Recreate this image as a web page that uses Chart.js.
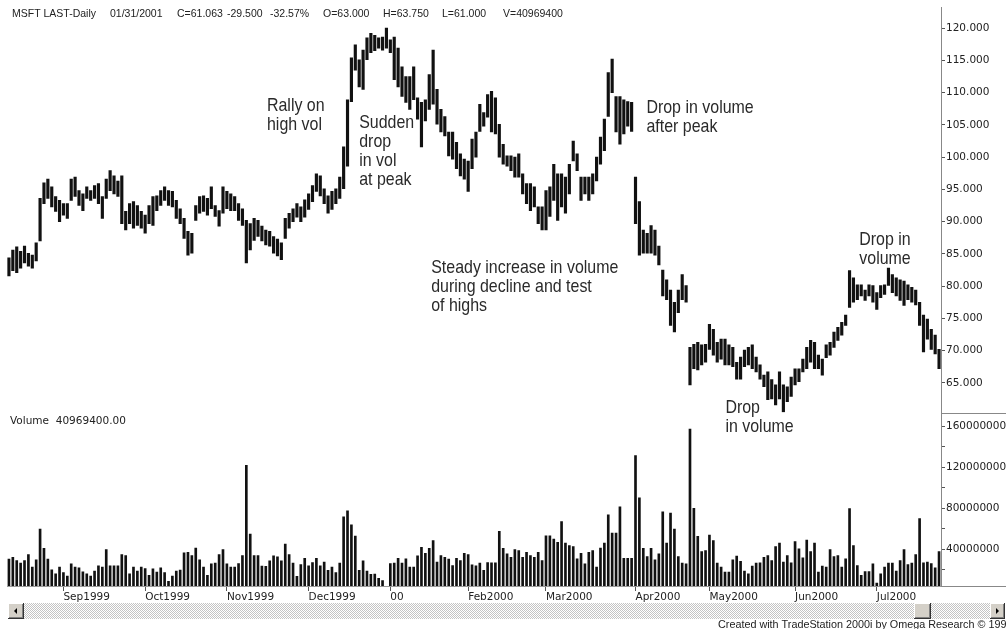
<!DOCTYPE html>
<html lang="en">
<head>
  <meta charset="utf-8">
  <title>MSFT Daily - price and volume</title>
  <script src="https://cdn.jsdelivr.net/npm/chart.js@4.4.1/dist/chart.umd.min.js"></script>
  <style>
    html, body { margin: 0; padding: 0; background: #fff; }
  </style>
</head>
<body>
  <canvas id="myChart" width="1006" height="629"></canvas>

  <script>
    // daily bars, Aug 1999 - Jul 2000
    var highs = [
      84.4, 85.6, 86.1, 85.4, 86.2, 85.1, 84.8, 86.7, 93.6, 96.0,
      96.6, 95.4, 93.9, 93.3, 92.8, 92.8, 96.6, 96.9, 94.8, 94.3,
      95.4, 94.8, 95.6, 95.9, 93.9, 96.6, 97.9, 97.1, 96.3, 97.1,
      91.6, 92.8, 93.1, 92.5, 91.6, 91.0, 92.5, 93.9, 94.0, 94.8,
      95.4, 94.8, 94.7, 93.3, 92.0, 90.5, 88.5, 88.2, 92.5, 93.9,
      94.0, 93.6, 95.4, 92.5, 91.7, 95.4, 94.7, 94.3, 93.9, 92.8,
      92.0, 90.2, 89.7, 90.5, 90.2, 89.3, 88.7, 88.5, 87.7, 87.3,
      86.7, 90.5, 91.3, 92.0, 92.8, 92.3, 93.4, 94.3, 95.6, 97.4,
      97.1, 95.1, 94.0, 94.7, 95.1, 96.9, 101.6, 108.9, 115.4, 117.4,
      115.1, 116.6, 118.5, 119.2, 118.9, 118.5, 118.6, 120.0, 118.2, 118.6,
      116.9, 114.0, 112.5, 112.5, 114.0, 109.2, 108.5, 108.9, 112.8, 116.6,
      110.5, 107.4, 106.3, 103.9, 103.9, 102.3, 100.5, 99.7, 99.4, 102.8,
      103.9, 108.2, 106.9, 109.7, 110.2, 109.2, 105.1, 102.0, 100.2, 100.2,
      100.0, 100.5, 97.4, 95.9, 95.9, 95.4, 92.3, 92.3, 94.8, 95.4,
      98.9, 97.4, 97.4, 96.9, 98.9, 102.5, 100.5, 96.9, 96.9, 96.9,
      97.4, 100.0, 103.1, 105.9, 113.1, 115.2, 109.4, 109.4, 108.9, 108.6,
      108.5, 96.9, 93.1, 88.7, 88.2, 89.4, 88.7, 86.2, 82.5, 81.0,
      79.4, 77.5, 79.4, 81.8, 80.1, 70.5, 71.0, 71.3, 70.9, 71.0,
      74.1, 73.3, 71.3, 71.8, 71.8, 70.9, 70.5, 68.2, 69.0, 70.1,
      70.5, 70.9, 69.0, 67.8, 66.2, 66.7, 65.5, 64.7, 66.7, 64.7,
      64.4, 65.9, 67.2, 67.2, 68.7, 70.5, 71.6, 71.3, 69.3, 68.7,
      70.9, 71.3, 72.9, 73.6, 74.4, 75.5, 82.4, 81.3, 80.2, 80.2,
      79.4, 80.2, 80.1, 79.0, 80.1, 80.2, 82.8, 81.8, 81.3, 81.0,
      80.8, 80.2, 79.8, 79.4, 77.5, 75.5, 74.9, 73.3, 72.4, 70.2
    ];
    var lows = [
      81.6, 82.4, 82.1, 82.8, 83.6, 83.1, 82.8, 83.9, 87.0, 92.8,
      93.6, 92.3, 91.6, 90.0, 91.0, 90.5, 93.3, 93.9, 92.5, 91.7,
      93.6, 93.3, 93.6, 92.8, 90.5, 93.6, 94.8, 94.3, 93.9, 89.7,
      88.7, 89.7, 89.0, 89.4, 89.0, 88.2, 89.7, 89.4, 91.7, 92.5,
      93.3, 92.5, 92.3, 90.5, 89.7, 87.4, 84.8, 85.1, 90.2, 91.3,
      91.6, 91.0, 92.0, 90.8, 89.3, 91.3, 92.0, 91.7, 91.7, 90.2,
      89.4, 83.6, 85.6, 87.1, 87.7, 87.0, 86.4, 86.2, 85.1, 84.7,
      84.1, 87.4, 89.0, 90.0, 90.7, 90.0, 90.7, 91.9, 93.1, 94.7,
      94.0, 92.8, 91.3, 91.9, 92.8, 93.6, 95.1, 98.6, 108.6, 113.5,
      110.9, 110.5, 115.1, 116.2, 116.5, 116.9, 116.6, 116.9, 116.2, 112.0,
      110.9, 109.4, 108.5, 107.4, 108.9, 105.9, 101.6, 105.6, 107.4, 108.2,
      105.1, 103.9, 103.3, 100.2, 99.7, 98.2, 97.1, 96.6, 94.7, 98.2,
      100.0, 104.0, 104.8, 106.2, 103.9, 103.6, 100.0, 98.9, 98.6, 97.9,
      96.9, 96.9, 94.3, 92.8, 91.7, 92.3, 89.7, 88.7, 88.7, 90.8,
      93.3, 90.2, 92.3, 91.3, 94.3, 99.4, 97.9, 93.3, 94.3, 93.3,
      94.3, 96.3, 98.9, 101.0, 106.3, 110.0, 103.9, 102.0, 103.6, 104.8,
      104.0, 89.7, 84.8, 85.1, 85.1, 85.1, 84.8, 83.3, 78.5, 77.9,
      73.9, 72.9, 75.9, 77.9, 77.5, 64.7, 67.2, 67.0, 67.8, 68.2,
      70.2, 69.3, 68.2, 68.7, 67.8, 67.8, 67.5, 65.6, 65.6, 67.5,
      67.8, 67.2, 66.7, 65.6, 64.4, 62.4, 62.5, 61.6, 62.5, 60.5,
      62.1, 62.9, 64.7, 65.2, 66.7, 67.2, 68.2, 67.2, 67.2, 66.2,
      68.9, 69.3, 70.5, 71.6, 72.4, 73.9, 76.7, 77.5, 77.9, 78.5,
      77.8, 78.5, 77.5, 76.4, 78.2, 78.7, 80.1, 79.0, 78.5, 77.8,
      77.0, 77.9, 77.5, 77.1, 73.9, 69.8, 71.8, 70.2, 69.5, 67.2
    ];
    // volume, millions of shares (null = no bar printed)
    var volumes = [
      30.4, 32.3, 29.1, 26.5, 29.1, 34.9, 22.6, 29.7, 59.8, 41.0,
      30.4, 20.0, 16.2, 22.6, 17.4, 13.9, 25.8, 22.6, 22.0, 18.1,
      16.2, 13.9, 18.7, 23.9, 22.6, 39.7, 23.9, 23.9, 23.9, 34.9,
      33.9, 16.2, 22.6, 18.7, 22.6, 21.3, 14.5, 21.0, 17.8, 22.0,
      17.4, 8.7, 13.9, 18.7, 19.7, 36.5, 37.1, 33.9, 41.3, 29.7,
      22.6, 14.5, 25.8, 26.5, 34.9, 39.7, 25.8, 22.6, 22.6, 26.2,
      33.9, 122.1, 54.9, 33.9, 33.9, 23.6, 23.3, 28.7, 33.6, 32.6,
      28.7, 45.2, 34.9, 26.5, 13.6, 25.2, 31.3, 23.9, 27.1, 31.3,
      23.9, 27.5, 19.4, 22.6, 17.4, 26.5, 71.7, 77.5, 64.0, 53.0,
      19.4, 28.7, 18.7, 15.5, 15.8, 11.6, 9.5, null, 26.2, 26.5,
      31.3, 26.5, 30.7, 22.6, 22.6, 33.6, 42.0, 36.2, 41.0, 48.5,
      27.5, 33.9, 32.3, 30.4, 24.2, 31.3, 29.1, 36.2, 34.9, 24.9,
      23.9, 26.5, 19.4, 27.1, 26.8, 26.8, 57.5, 41.0, 35.5, 32.3,
      39.7, 38.8, 32.3, 37.1, 33.9, 32.3, 37.1, 29.1, 53.3, 53.3,
      50.1, 46.8, 67.2, 46.2, 43.6, 42.6, 30.7, 36.2, 25.8, 37.1,
      38.8, 22.6, 41.3, 46.2, 73.6, 55.9, 55.9, 81.4, 31.3, 31.3,
      31.3, 131.5, 90.4, 41.0, 32.9, 41.0, 29.7, 35.5, 76.6, 46.2,
      75.3, 59.8, 32.9, 26.5, 25.8, 157.3, 80.1, 52.6, 37.8, 38.8,
      53.9, 48.5, 26.5, 22.6, 17.8, 17.8, 29.7, 33.3, 28.4, 18.7,
      16.2, 23.6, 26.5, 26.8, 32.3, 33.9, 29.1, 42.6, 46.2, 27.5,
      33.9, 26.8, 47.5, 40.4, 31.7, 49.1, 37.8, 46.2, 17.8, 23.6,
      22.6, 39.7, 32.9, 33.9, 22.6, 30.7, 79.8, 43.6, 24.2, 14.5,
      18.4, 18.4, 25.8, 7.1, 16.2, 22.6, 26.5, 26.5, 18.7, 29.1,
      39.7, 25.2, 26.5, 34.9, 70.1, 26.8, 27.5, 26.2, 22.0, 37.8
    ];

    // x axis: month labels and the bar they start on
    var monthNames = ['Sep1999', 'Oct1999', 'Nov1999', 'Dec1999', '00', 'Feb2000',
                      'Mar2000', 'Apr2000', 'May2000', 'Jun2000', 'Jul2000'];
    var monthStart = [14, 35, 56, 77, 98, 118, 138, 161, 180, 202, 223];

    var priceTicks = [65, 70, 75, 80, 85, 90, 95, 100, 105, 110, 115, 120];
    var volumeTicks = [20, 40, 60, 80, 100, 120, 140, 160];   // millions

    var headerText = ['MSFT LAST-Daily', '01/31/2001', 'C=61.063', '-29.500', '-32.57%',
                      'O=63.000', 'H=63.750', 'L=61.000', 'V=40969400'];
    var headerX = [12, 110, 177, 227, 270, 323, 383, 442, 503];

    // callouts: text lines, anchored at [bar index, price] of the first baseline
    var notes = [
      { lines: ['Rally on', 'high vol'], at: [66.3, 107.1] },
      { lines: ['Sudden', 'drop', 'in vol', 'at peak'], at: [90.0, 104.5] },
      { lines: ['Drop in volume', 'after peak'], at: [163.8, 106.9] },
      { lines: ['Steady increase in volume', 'during decline and test', 'of highs'], at: [108.5, 82.05] },
      { lines: ['Drop in', 'volume'], at: [218.5, 86.35] },
      { lines: ['Drop', 'in volume'], at: [184.1, 60.4] }
    ];

    var labels = [];
    for (var i = 0; i < highs.length; i++) {
      labels.push('');
    }
    for (var k = 0; k < monthStart.length; k++) {
      labels[monthStart[k]] = monthNames[k];
    }
    var ranges = highs.map(function (h, i) { return [lows[i], h]; });

    var smallFont = { family: 'DejaVu Sans', size: 10.5 };

    // header, callouts, scroll bar and footer
    var decor = {
      id: 'decor',
      afterDraw: function (chart) {
        var ctx = chart.ctx;
        var xs = chart.scales.x, yp = chart.scales.yPrice, yv = chart.scales.yVol;
        var area = chart.chartArea;
        ctx.save();

        ctx.fillStyle = '#222';
        ctx.font = '10.5px "Liberation Sans"';
        ctx.textBaseline = 'middle';
        for (var i = 0; i < headerText.length; i++) {
          ctx.fillText(headerText[i], headerX[i], 14);
        }
        ctx.font = '10.5px "DejaVu Sans"';
        ctx.fillText('Volume  40969400.00', 10, 421);

        // panel divider and bottom rule in the axis column
        ctx.strokeStyle = '#888';
        ctx.lineWidth = 1;
        ctx.beginPath();
        ctx.moveTo(area.right, Math.round(yv.top) + 0.5);
        ctx.lineTo(chart.width, Math.round(yv.top) + 0.5);
        ctx.moveTo(area.right, Math.round(area.bottom) + 0.5);
        ctx.lineTo(chart.width, Math.round(area.bottom) + 0.5);
        ctx.stroke();

        // narrow face: Liberation Sans squeezed sideways
        ctx.fillStyle = '#2a2a2a';
        ctx.font = '19px "Liberation Sans"';
        ctx.textBaseline = 'alphabetic';
        notes.forEach(function (n) {
          var x = xs.getPixelForValue(n.at[0]);
          var y = yp.getPixelForValue(n.at[1]);
          n.lines.forEach(function (line, j) {
            ctx.save();
            ctx.translate(x, y + j * 19);
            ctx.scale(0.84, 1);
            ctx.fillText(line, 0, 0);
            ctx.restore();
          });
        });

        // scroll bar
        var pat = document.createElement('canvas');
        pat.width = 2; pat.height = 2;
        var pc = pat.getContext('2d');
        pc.fillStyle = '#fff'; pc.fillRect(0, 0, 2, 2);
        pc.fillStyle = '#c4c4c4'; pc.fillRect(0, 0, 1, 1); pc.fillRect(1, 1, 1, 1);
        ctx.fillStyle = ctx.createPattern(pat, 'repeat');
        ctx.fillRect(8, 603, 997, 16);

        function button(x, w) {
          ctx.fillStyle = '#d4d0c8';
          ctx.fillRect(x, 603, w, 16);
          ctx.fillStyle = '#fff';
          ctx.fillRect(x, 603, w - 1, 1);
          ctx.fillRect(x, 603, 1, 15);
          ctx.fillStyle = '#808080';
          ctx.fillRect(x + 1, 617, w - 2, 1);
          ctx.fillRect(x + w - 2, 604, 1, 14);
          ctx.fillStyle = '#333';
          ctx.fillRect(x, 618, w, 1);
          ctx.fillRect(x + w - 1, 603, 1, 16);
        }
        button(8, 16);
        button(990, 15);
        button(914, 17);
        ctx.fillStyle = '#000';
        ctx.beginPath();
        ctx.moveTo(14, 611); ctx.lineTo(17, 608); ctx.lineTo(17, 614); ctx.closePath();
        ctx.fill();
        ctx.beginPath();
        ctx.moveTo(999, 611); ctx.lineTo(996, 608); ctx.lineTo(996, 614); ctx.closePath();
        ctx.fill();

        ctx.fillStyle = '#222';
        ctx.font = '10.8px "Liberation Sans"';
        ctx.textBaseline = 'alphabetic';
        ctx.fillText('Created with TradeStation 2000i by Omega Research \u00a9 1999', 718, 628);
        ctx.restore();
      }
    };

    var ctx = document.getElementById('myChart');
    var myChart = new Chart(ctx, {
      type: 'bar',
      data: {
        labels: labels,
        datasets: [
          {
            label: 'MSFT',
            data: ranges,
            yAxisID: 'yPrice',
            backgroundColor: '#111',
            borderWidth: 0,
            barThickness: 2.5,
            grouped: false
          },
          {
            label: 'Volume',
            data: volumes,
            yAxisID: 'yVol',
            backgroundColor: '#111',
            borderWidth: 0,
            barThickness: 2,
            grouped: false
          }
        ]
      },
      options: {
        responsive: false,
        animation: false,
        events: [],
        layout: { padding: { left: 7, right: 0, top: 2, bottom: 0 } },
        plugins: { legend: { display: false }, tooltip: { enabled: false } },
        scales: {
          x: {
            type: 'category',
            offset: true,
            grid: { display: true, offset: false, drawOnChartArea: false, tickLength: 5, color: '#555' },
            border: { display: true, color: '#999' },
            ticks: {
              autoSkip: false, maxRotation: 0, minRotation: 0, align: 'start', padding: 0,
              font: smallFont, color: '#222',
              callback: function (value, index) { return monthNames[index]; }
            },
            afterBuildTicks: function (scale) {
              scale.ticks = monthStart.map(function (i) { return { value: i }; });
            },
            afterFit: function (scale) { scale.height = 43; }
          },
          yPrice: {
            type: 'linear',
            position: 'right',
            stack: 'panes',
            stackWeight: 409,
            min: 60.4,
            max: 123.23,
            grid: { drawOnChartArea: false, tickLength: 4, color: '#555' },
            border: { display: true, color: '#888' },
            ticks: {
              autoSkip: false, padding: 1, font: smallFont, color: '#222',
              callback: function (v) { return v.toFixed(3); }
            },
            afterBuildTicks: function (scale) {
              scale.ticks = priceTicks.map(function (v) { return { value: v }; });
            },
            afterFit: function (scale) { scale.width = 65; }
          },
          yVol: {
            type: 'linear',
            position: 'right',
            stack: 'panes',
            stackWeight: 175,
            min: 4.2,
            max: 173.5,
            grid: { drawOnChartArea: false, tickLength: 4, color: '#555' },
            border: { display: true, color: '#888' },
            ticks: {
              autoSkip: false, padding: 1, font: smallFont, color: '#222',
              callback: function (v) { return v % 40 === 0 ? v + '000000' : ''; }
            },
            afterBuildTicks: function (scale) {
              scale.ticks = volumeTicks.map(function (v) { return { value: v }; });
            },
            afterFit: function (scale) { scale.width = 65; }
          }
        }
      },
      plugins: [decor]
    });
  </script>
</body>
</html>
